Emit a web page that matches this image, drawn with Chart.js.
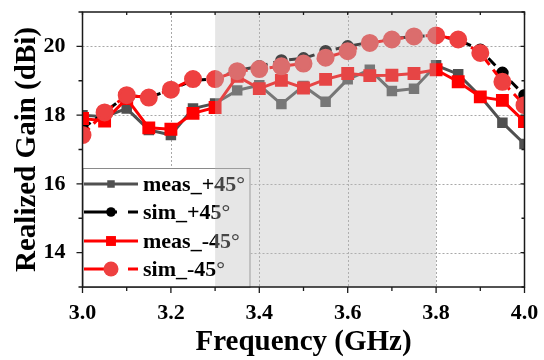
<!DOCTYPE html>
<html>
<head>
<meta charset="utf-8">
<script src="https://cdn.jsdelivr.net/npm/chart.js@4/dist/chart.umd.min.js"></script>
<style>
  html, body { margin: 0; padding: 0; background: #fff; }
  #wrap { width: 544px; height: 360px; }
</style>
</head>
<body>
<div id="wrap"><canvas id="gainChart"></canvas></div>
<script>
// frequency points (GHz)
const freq = [3.0, 3.05, 3.1, 3.15, 3.2, 3.25, 3.3, 3.35, 3.4, 3.45, 3.5,
              3.55, 3.6, 3.65, 3.7, 3.75, 3.8, 3.85, 3.9, 3.95, 4.0];
// realized gain (dBi)
const measP45 = [18.0, 17.95, 18.19, 17.57, 17.42, 18.19, 18.34, 18.72, 18.87, 18.32, 18.85,
                 18.39, 19.04, 19.32, 18.70, 18.77, 19.45, 19.19, 18.55, 17.78, 17.16];
const simP45  = [17.61, 18.08, 18.58, 18.51, 18.74, 19.01, 19.05, 19.30, 19.42, 19.59, 19.65,
                 19.86, 20.0, 20.12, 20.22, 20.29, 20.32, 20.19, 19.90, 19.23, 18.58];
const measM45 = [17.90, 17.83, 18.48, 17.63, 17.59, 18.05, 18.22, 19.13, 18.77, 19.01, 18.79,
                 19.04, 19.21, 19.15, 19.16, 19.21, 19.32, 18.97, 18.53, 18.43, 17.81];
const simM45  = [17.42, 18.08, 18.58, 18.51, 18.74, 19.05, 19.05, 19.28, 19.34, 19.42, 19.50,
                 19.67, 19.86, 20.10, 20.20, 20.29, 20.32, 20.20, 19.81, 18.97, 18.29];
const seriesNames = ['meas_+45°', 'sim_+45°', 'meas_-45°', 'sim_-45°'];
// shaded band (GHz)
const band = [3.3, 3.8];

const serif = "'Liberation Serif', 'Times New Roman', serif";

function pts(ys) {
    return freq.map(function (f, i) { return { x: f, y: ys[i] }; });
}

// gridlines, legend, shaded band and frame are drawn by hand
const framePlugin = {
    id: 'framePlugin',
    beforeDraw(chart) {
        const ctx = chart.ctx;
        ctx.save();
        ctx.fillStyle = '#fff';
        ctx.fillRect(0, 0, chart.width, chart.height);
        ctx.restore();
    },
    beforeDatasetsDraw(chart) {
        const ctx = chart.ctx, a = chart.chartArea;
        const xs = chart.scales.x, ys = chart.scales.y;
        ctx.save();
        ctx.strokeStyle = '#a8a8a8';
        ctx.lineWidth = 1;
        ctx.setLineDash([2, 2]);
        xs.ticks.forEach(function (t) {
            if (Math.round(t.value * 10) % 2 !== 0) return;
            const px = Math.round(xs.getPixelForValue(t.value)) + 0.5;
            if (px <= a.left + 1 || px >= a.right - 1) return;
            ctx.beginPath(); ctx.moveTo(px, a.top); ctx.lineTo(px, a.bottom); ctx.stroke();
        });
        ys.ticks.forEach(function (t) {
            if (Math.round(t.value) % 2 !== 0) return;
            const py = Math.round(ys.getPixelForValue(t.value)) + 0.5;
            ctx.beginPath(); ctx.moveTo(a.left, py); ctx.lineTo(a.right, py); ctx.stroke();
        });
        ctx.restore();
    },
    afterDatasetsDraw(chart) {
        const ctx = chart.ctx, a = chart.chartArea;
        const xs = chart.scales.x, ys = chart.scales.y;
        ctx.save();

        // legend box
        const lx = a.left, ly = 168, lw = 168, lh = a.bottom - 168;
        ctx.fillStyle = '#fff';
        ctx.fillRect(lx, ly, lw, lh);
        ctx.strokeStyle = '#8a8a8a';
        ctx.lineWidth = 1;
        ctx.strokeRect(lx + 0.5, ly + 0.5, lw - 1, lh);
        const rows = [184, 212, 241, 269];
        chart.data.datasets.forEach(function (ds, i) {
            const y = rows[i];
            ctx.strokeStyle = ds.borderColor;
            ctx.lineWidth = 3;
            ctx.setLineDash(ds.borderDash && ds.borderDash.length ? [33, 11, 10, 100] : []);
            ctx.beginPath(); ctx.moveTo(84, y); ctx.lineTo(138, y); ctx.stroke();
            ctx.setLineDash([]);
            ctx.fillStyle = ds.pointBackgroundColor;
            if (ds.pointStyle === 'rect') {
                const h = ds.pointRadius * Math.SQRT1_2;
                ctx.fillRect(111 - h, y - h, 2 * h, 2 * h);
            } else {
                ctx.beginPath(); ctx.arc(111, y, ds.pointRadius, 0, Math.PI * 2); ctx.fill();
            }
            ctx.fillStyle = '#000';
            ctx.font = 'bold 22px ' + serif;
            ctx.textBaseline = 'middle';
            ctx.textAlign = 'left';
            ctx.fillText(ds.label, 143, y + 1);
        });

        // shaded band overlay
        const x0 = xs.getPixelForValue(band[0]), x1 = xs.getPixelForValue(band[1]);
        ctx.fillStyle = 'rgba(186,186,186,0.37)';
        ctx.fillRect(x0, a.top, x1 - x0, a.bottom - a.top);

        // frame
        ctx.strokeStyle = '#1a1a1a';
        ctx.lineWidth = 1.5;
        ctx.strokeRect(a.left, a.top, a.right - a.left, a.bottom - a.top);

        // tick marks
        ctx.lineWidth = 1.3;
        xs.ticks.forEach(function (t) {
            const px = xs.getPixelForValue(t.value);
            const major = Math.round(t.value * 10) % 2 === 0;
            ctx.beginPath();
            ctx.moveTo(px, a.bottom); ctx.lineTo(px, a.bottom + (major ? 6 : 4));
            ctx.moveTo(px, a.top); ctx.lineTo(px, a.top + 3);
            ctx.stroke();
        });
        ys.ticks.forEach(function (t) {
            const py = ys.getPixelForValue(t.value);
            const major = Math.round(t.value) % 2 === 0;
            ctx.beginPath();
            ctx.moveTo(a.left, py); ctx.lineTo(a.left - (major ? 6 : 4), py);
            ctx.moveTo(a.right, py); ctx.lineTo(a.right - (major ? 4 : 3), py);
            ctx.stroke();
        });
        ctx.restore();
    }
};

const ctx = document.getElementById('gainChart').getContext('2d');
new Chart(ctx, {
    type: 'line',
    data: {
        datasets: [
            {
                label: seriesNames[0], data: pts(measP45),
                borderColor: '#505050', backgroundColor: '#505050',
                pointBackgroundColor: '#505050', pointBorderColor: '#505050',
                pointStyle: 'rect', pointRadius: 5.3, borderWidth: 3, order: 4
            },
            {
                label: seriesNames[1], data: pts(simP45),
                borderColor: '#000', backgroundColor: '#000',
                pointBackgroundColor: '#000', pointBorderColor: '#000',
                pointStyle: 'circle', pointRadius: 4.8, borderWidth: 3,
                borderDash: [10, 6], order: 3
            },
            {
                label: seriesNames[2], data: pts(measM45),
                borderColor: '#ff0000', backgroundColor: '#ff0000',
                pointBackgroundColor: '#ff0000', pointBorderColor: '#ff0000',
                pointStyle: 'rect', pointRadius: 7, borderWidth: 3, order: 2
            },
            {
                label: seriesNames[3], data: pts(simM45),
                borderColor: '#ff0000', backgroundColor: '#ee4040',
                pointBackgroundColor: '#ee4040', pointBorderColor: '#ee4040',
                pointStyle: 'circle', pointRadius: 7.5, borderWidth: 3,
                borderDash: [10, 6], order: 1
            }
        ]
    },
    options: {
        responsive: true,
        maintainAspectRatio: false,
        animation: false,
        clip: 0,
        layout: { padding: { top: 12, right: 19.5, left: 0, bottom: 0 } },
        plugins: { legend: { display: false }, tooltip: { enabled: false } },
        scales: {
            x: {
                type: 'linear', min: 3, max: 4,
                grid: { display: false }, border: { display: false },
                ticks: {
                    stepSize: 0.1, autoSkip: false, maxRotation: 0, padding: 5,
                    color: '#000', font: { family: serif, size: 22, weight: 'bold' },
                    callback: function (v) { return Math.round(v * 10) % 2 === 0 ? v.toFixed(1) : ''; }
                },
                title: {
                    display: true, text: 'Frequency (GHz)', color: '#000',
                    font: { family: serif, size: 29, weight: 'bold', lineHeight: 1.2 },
                    padding: { top: 0, bottom: 0 }
                },
                afterFit: function (s) { s.height = 73; s.paddingLeft = 0; s.paddingRight = 0; }
            },
            y: {
                min: 13, max: 21,
                grid: { display: false }, border: { display: false },
                ticks: {
                    stepSize: 1, autoSkip: false, padding: 9,
                    color: '#000', font: { family: serif, size: 22, weight: 'bold' },
                    callback: function (v) { return Math.round(v) % 2 === 0 ? String(v) : ''; }
                },
                title: {
                    display: true, text: 'Realized Gain (dBi)', color: '#000',
                    font: { family: serif, size: 29, weight: 'bold', lineHeight: 1.2 },
                    padding: { top: 10, bottom: 0 }
                },
                afterFit: function (s) { s.width = 82.5; s.paddingTop = 0; s.paddingBottom = 0; }
            }
        }
    },
    plugins: [framePlugin]
});
</script>
</body>
</html>
